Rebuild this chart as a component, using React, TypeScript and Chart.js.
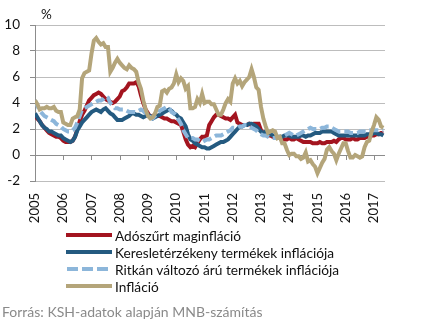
import React, { useEffect, useRef } from "react";
import { Chart, registerables } from "chart.js";

Chart.register(...registerables);

const START_YEAR = 2005;
const YEAR_TICKS = [2005, 2006, 2007, 2008, 2009, 2010, 2011, 2012, 2013, 2014, 2015, 2016, 2017];
const Y_TICKS = [-2, 0, 2, 4, 6, 8, 10];
const SERIES_NAMES = [
  "Adószűrt maginfláció",
  "Keresletérzékeny termékek inflációja",
  "Ritkán változó árú termékek inflációja",
  "Infláció",
];
const SOURCE_TEXT = "Forrás: KSH-adatok alapján MNB-számítás";

// monthly values, Jan 2005 – May 2017
const coreTaxAdj = [
  3.0, 2.8, 2.6, 2.3, 2.1, 1.9, 1.7, 1.6, 1.5, 1.4, 1.4, 1.3,
  1.1, 1.0, 1.0, 1.0, 1.1, 1.4, 2.0, 2.6, 3.1, 3.4, 3.8, 4.2,
  4.4, 4.6, 4.7, 4.8, 4.7, 4.5, 4.3, 4.2, 4.1, 4.0, 4.1, 4.3,
  4.5, 4.9, 5.0, 5.2, 5.5, 5.5, 5.5, 5.6, 5.3, 4.6, 4.0, 3.5,
  3.2, 2.9, 3.0, 3.1, 3.0, 3.0, 2.9, 2.8, 2.8, 2.7, 2.6, 2.6,
  2.5, 2.4, 2.3, 1.8, 1.2, 0.8, 0.6, 0.7, 0.6, 0.9, 1.2, 1.4,
  1.4, 1.5, 2.3, 2.6, 2.9, 3.1, 3.1, 3.0, 2.9, 2.8, 2.8, 2.7,
  2.9, 3.1, 2.5, 2.4, 2.3, 2.3, 2.3, 2.4, 2.3, 2.4, 2.4, 2.4,
  1.9, 1.7, 1.6, 1.5, 1.5, 1.4, 1.4, 1.3, 1.3, 1.2, 1.2, 1.2,
  1.3, 1.2, 1.2, 1.3, 1.2, 1.1, 1.0, 1.0, 1.0, 1.0, 0.9, 0.9,
  0.9, 1.0, 0.9, 0.9, 1.0, 1.0, 1.0, 1.1, 1.0, 1.2, 1.3, 1.3,
  1.2, 1.2, 1.2, 1.3, 1.2, 1.2, 1.3, 1.3, 1.3, 1.4, 1.4, 1.5,
  1.5, 1.6, 1.6, 1.7, 1.7,
];

const demandSensitive = [
  3.2, 2.9, 2.6, 2.3, 2.1, 2.0, 1.8, 1.8, 1.7, 1.6, 1.5, 1.5,
  1.3, 1.2, 1.1, 1.0, 1.1, 1.4, 1.9, 2.2, 2.5, 2.7, 2.9, 3.1,
  3.3, 3.4, 3.5, 3.4, 3.3, 3.5, 3.6, 3.4, 3.2, 3.1, 2.9, 2.7,
  2.7, 2.7, 2.8, 2.9, 3.0, 3.2, 3.2, 3.1, 3.1, 3.0, 2.9, 3.0,
  3.1, 3.0, 2.8, 2.9, 3.0, 3.1, 3.2, 3.3, 3.4, 3.5, 3.4, 3.2,
  3.1, 2.9, 2.8, 2.5, 2.2, 1.6, 1.2, 1.1, 0.9, 0.8, 0.7, 0.6,
  0.6, 0.5, 0.5, 0.6, 0.7, 0.8, 0.9, 1.0, 1.0, 1.1, 1.2, 1.4,
  1.6, 1.8, 2.0, 2.2, 2.2, 2.3, 2.3, 2.4, 2.4, 2.3, 2.2, 2.0,
  1.8, 1.7, 1.8, 1.7, 1.6, 1.5, 1.5, 1.4, 1.4, 1.4, 1.5, 1.5,
  1.5, 1.4, 1.4, 1.4, 1.4, 1.5, 1.5, 1.4, 1.5, 1.5, 1.6, 1.7,
  1.7, 1.7, 1.8, 1.8, 1.8, 1.8, 1.8, 1.7, 1.6, 1.5, 1.5, 1.5,
  1.5, 1.5, 1.5, 1.5, 1.5, 1.5, 1.5, 1.5, 1.5, 1.6, 1.6, 1.6,
  1.7, 1.7, 1.6, 1.6, 1.5,
];

const stickyPrice = [
  4.2, 3.8, 3.4, 3.2, 3.0, 2.9, 2.8, 2.7, 2.6, 2.4, 2.3, 2.2,
  2.0, 1.9, 1.8, 1.8, 1.9, 2.1, 2.5, 3.0, 3.5, 3.6, 3.7, 3.8,
  3.9, 4.0, 4.1, 4.2, 4.2, 4.3, 4.5, 4.4, 4.0, 3.8, 3.6, 3.6,
  3.5, 3.5, 3.5, 3.4, 3.3, 3.3, 3.3, 3.3, 3.4, 3.5, 3.4, 3.2,
  3.1, 2.9, 2.8, 3.0, 3.2, 3.4, 3.5, 3.6, 3.7, 3.6, 3.3, 3.2,
  3.0, 2.7, 2.4, 1.9, 1.6, 1.3, 1.3, 1.3, 1.2, 1.2, 1.1, 1.0,
  1.1, 1.2, 1.2, 1.3, 1.4, 1.5, 1.5, 1.5, 1.6, 1.7, 1.8, 1.9,
  2.1, 2.1, 2.1, 2.2, 2.2, 2.3, 2.3, 2.2, 2.1, 2.0, 1.9, 1.7,
  1.6, 1.5, 1.5, 1.4, 1.3, 1.3, 1.3, 1.3, 1.4, 1.4, 1.5, 1.6,
  1.7, 1.6, 1.5, 1.5, 1.6, 1.7, 1.8, 1.9, 2.0, 2.1, 2.0, 2.0,
  2.0, 2.0, 2.1, 2.1, 2.2, 2.2, 2.1, 2.0, 1.9, 1.8, 1.8, 1.8,
  1.8, 1.8, 1.7, 1.7, 1.7, 1.7, 1.8, 1.8, 1.8, 1.8, 1.9, 1.9,
  1.9, 1.9, 1.9, 1.9, 1.9,
];

const headline = [
  4.2, 3.9, 3.5, 3.6, 3.6, 3.7, 3.6, 3.6, 3.7, 3.4, 3.3, 3.3,
  2.5, 2.4, 2.3, 2.3, 2.8, 2.9, 3.0, 3.5, 5.9, 6.3, 6.4, 6.5,
  7.8, 8.8, 9.0, 8.7, 8.5, 8.6, 8.3, 8.3, 6.4, 6.7, 7.1, 7.4,
  7.1, 6.9, 6.7, 6.6, 6.9, 6.7, 6.6, 6.4, 5.6, 5.1, 4.2, 3.5,
  3.0, 2.8, 2.9, 3.2, 3.7, 3.8, 4.9, 5.0, 4.8, 5.1, 5.2, 5.5,
  6.2, 5.6, 5.9, 5.7, 5.1, 5.3, 3.6, 3.6, 3.7, 4.3, 4.0, 4.7,
  4.0, 4.1, 4.1, 3.9, 3.9, 3.5, 3.1, 3.1, 3.5, 4.0, 4.3, 4.1,
  5.5, 5.9, 5.5, 5.7, 5.3, 5.6, 5.8, 6.0, 6.6, 6.0, 5.2, 5.0,
  3.7, 2.8, 2.2, 1.7, 1.8, 1.9, 1.8, 1.3, 1.4, 0.9, 0.9, 0.4,
  0.0, 0.1, 0.1, -0.1, -0.1, -0.3, -0.2, 0.2, -0.5, -0.4, -0.7, -0.9,
  -1.4, -1.0, -0.6, -0.3, 0.4, 0.6, 0.3, 0.1, -0.4, 0.1, 0.5, 0.9,
  0.9, 0.3, -0.2, -0.2, 0.0, -0.1, -0.2, -0.1, 0.6, 1.0, 1.1, 1.8,
  2.3, 2.9, 2.7, 2.2, 2.1,
];

const COLORS = ["#a3141f", "#245a80", "#8cb6da", "#b4a57a"];
const FONT = "Lato, 'Open Sans', sans-serif";

const toPoints = (arr: number[]) => arr.map((v, i) => ({ x: START_YEAR + i / 12, y: v }));

export default function App() {
  const canvasRef = useRef<HTMLCanvasElement | null>(null);

  useEffect(() => {
    const canvas = canvasRef.current;
    if (!canvas) return;

    const axisDecor = {
      id: "axisDecor",
      beforeDatasetsDraw(chart: any) {
        const { ctx, scales } = chart;
        const xs = scales.x;
        const ys = scales.y;
        const y0 = ys.getPixelForValue(0);
        ctx.save();
        ctx.strokeStyle = "#8c8c8c";
        ctx.lineWidth = 1;
        ctx.beginPath();
        YEAR_TICKS.forEach((yr) => {
          const px = Math.round(xs.getPixelForValue(yr)) + 0.5;
          ctx.moveTo(px, y0);
          ctx.lineTo(px, y0 + 5);
        });
        ctx.stroke();
        ctx.restore();
      },
      afterDraw(chart: any) {
        const { ctx, chartArea } = chart;
        ctx.save();
        ctx.fillStyle = "#111";
        ctx.font = `13.5px ${FONT}`;
        ctx.textBaseline = "middle";
        ctx.textAlign = "left";
        ctx.fillText("%", chartArea.left + 6, chartArea.top - 10);
        ctx.restore();
      },
    };

    const datasets = [coreTaxAdj, demandSensitive, stickyPrice, headline].map((arr, i) => ({
      label: SERIES_NAMES[i],
      data: toPoints(arr),
      borderColor: COLORS[i],
      backgroundColor: COLORS[i],
      borderWidth: 4,
      borderDash: i === 2 ? [9, 4] : [],
      pointRadius: 0,
      tension: 0,
      fill: false,
      order: 4 - i,
    }));

    const chart = new Chart(canvas, {
      type: "line",
      data: { datasets },
      options: {
        animation: false,
        responsive: false,
        layout: { padding: { top: 25, right: 36, left: 0, bottom: 0 } },
        plugins: { legend: { display: false }, tooltip: { enabled: false } },
        scales: {
          x: {
            type: "linear",
            min: START_YEAR,
            max: 2017.39,
            grid: { display: false, drawTicks: false },
            border: { display: false },
            afterBuildTicks: (scale: any) => {
              scale.ticks = YEAR_TICKS.map((v) => ({ value: v }));
            },
            afterFit: (scale: any) => {
              scale.height = 47;
            },
            ticks: {
              autoSkip: false,
              minRotation: 90,
              maxRotation: 90,
              padding: 12,
              color: "#111",
              font: { family: FONT, size: 13 },
              callback: (v: any) => String(v),
            },
          },
          y: {
            min: -2,
            max: 10,
            afterBuildTicks: (scale: any) => {
              scale.ticks = Y_TICKS.map((v) => ({ value: v }));
            },
            afterFit: (scale: any) => {
              scale.width = 35;
            },
            grid: {
              color: (c: any) => (c.tick && c.tick.value === 0 ? "#8c8c8c" : "#bdbdbd"),
              tickLength: 5,
              tickColor: "#8c8c8c",
            },
            border: { display: true, color: "#8c8c8c" },
            ticks: {
              padding: 10,
              color: "#111",
              font: { family: FONT, size: 13.5 },
              callback: (v: any) => String(v),
            },
          },
        },
      },
      plugins: [axisDecor],
    } as any);

    return () => chart.destroy();
  }, []);

  const legendLine = (i: number) => {
    if (i === 2) {
      return (
        <svg width={46} height={6} style={{ display: "block" }}>
          <line x1={1} y1={3} x2={46} y2={3} stroke={COLORS[i]} strokeWidth={4} strokeDasharray="11 4" />
        </svg>
      );
    }
    return <div style={{ width: 46, height: 4, background: COLORS[i] }} />;
  };

  return (
    <div
      style={{
        position: "fixed",
        left: 0,
        top: 0,
        width: 421,
        height: 322,
        background: "#fff",
        fontFamily: FONT,
        overflow: "hidden",
      }}
    >
      <canvas ref={canvasRef} width={421} height={228} style={{ position: "absolute", left: 0, top: 0, display: "block" }} />
      <div style={{ position: "absolute", left: 66, top: 226.5 }}>
        {SERIES_NAMES.map((name, i) => (
          <div key={name} style={{ display: "flex", alignItems: "center", height: 17 }}>
            {legendLine(i)}
            <span style={{ marginLeft: 3, fontSize: 13.7, color: "#111", whiteSpace: "nowrap", lineHeight: "17px" }}>{name}</span>
          </div>
        ))}
      </div>
      <div
        style={{
          position: "absolute",
          left: 2,
          top: 303,
          fontSize: 14,
          lineHeight: "17px",
          color: "#8a8a8a",
          whiteSpace: "nowrap",
        }}
      >
        {SOURCE_TEXT}
      </div>
    </div>
  );
}
